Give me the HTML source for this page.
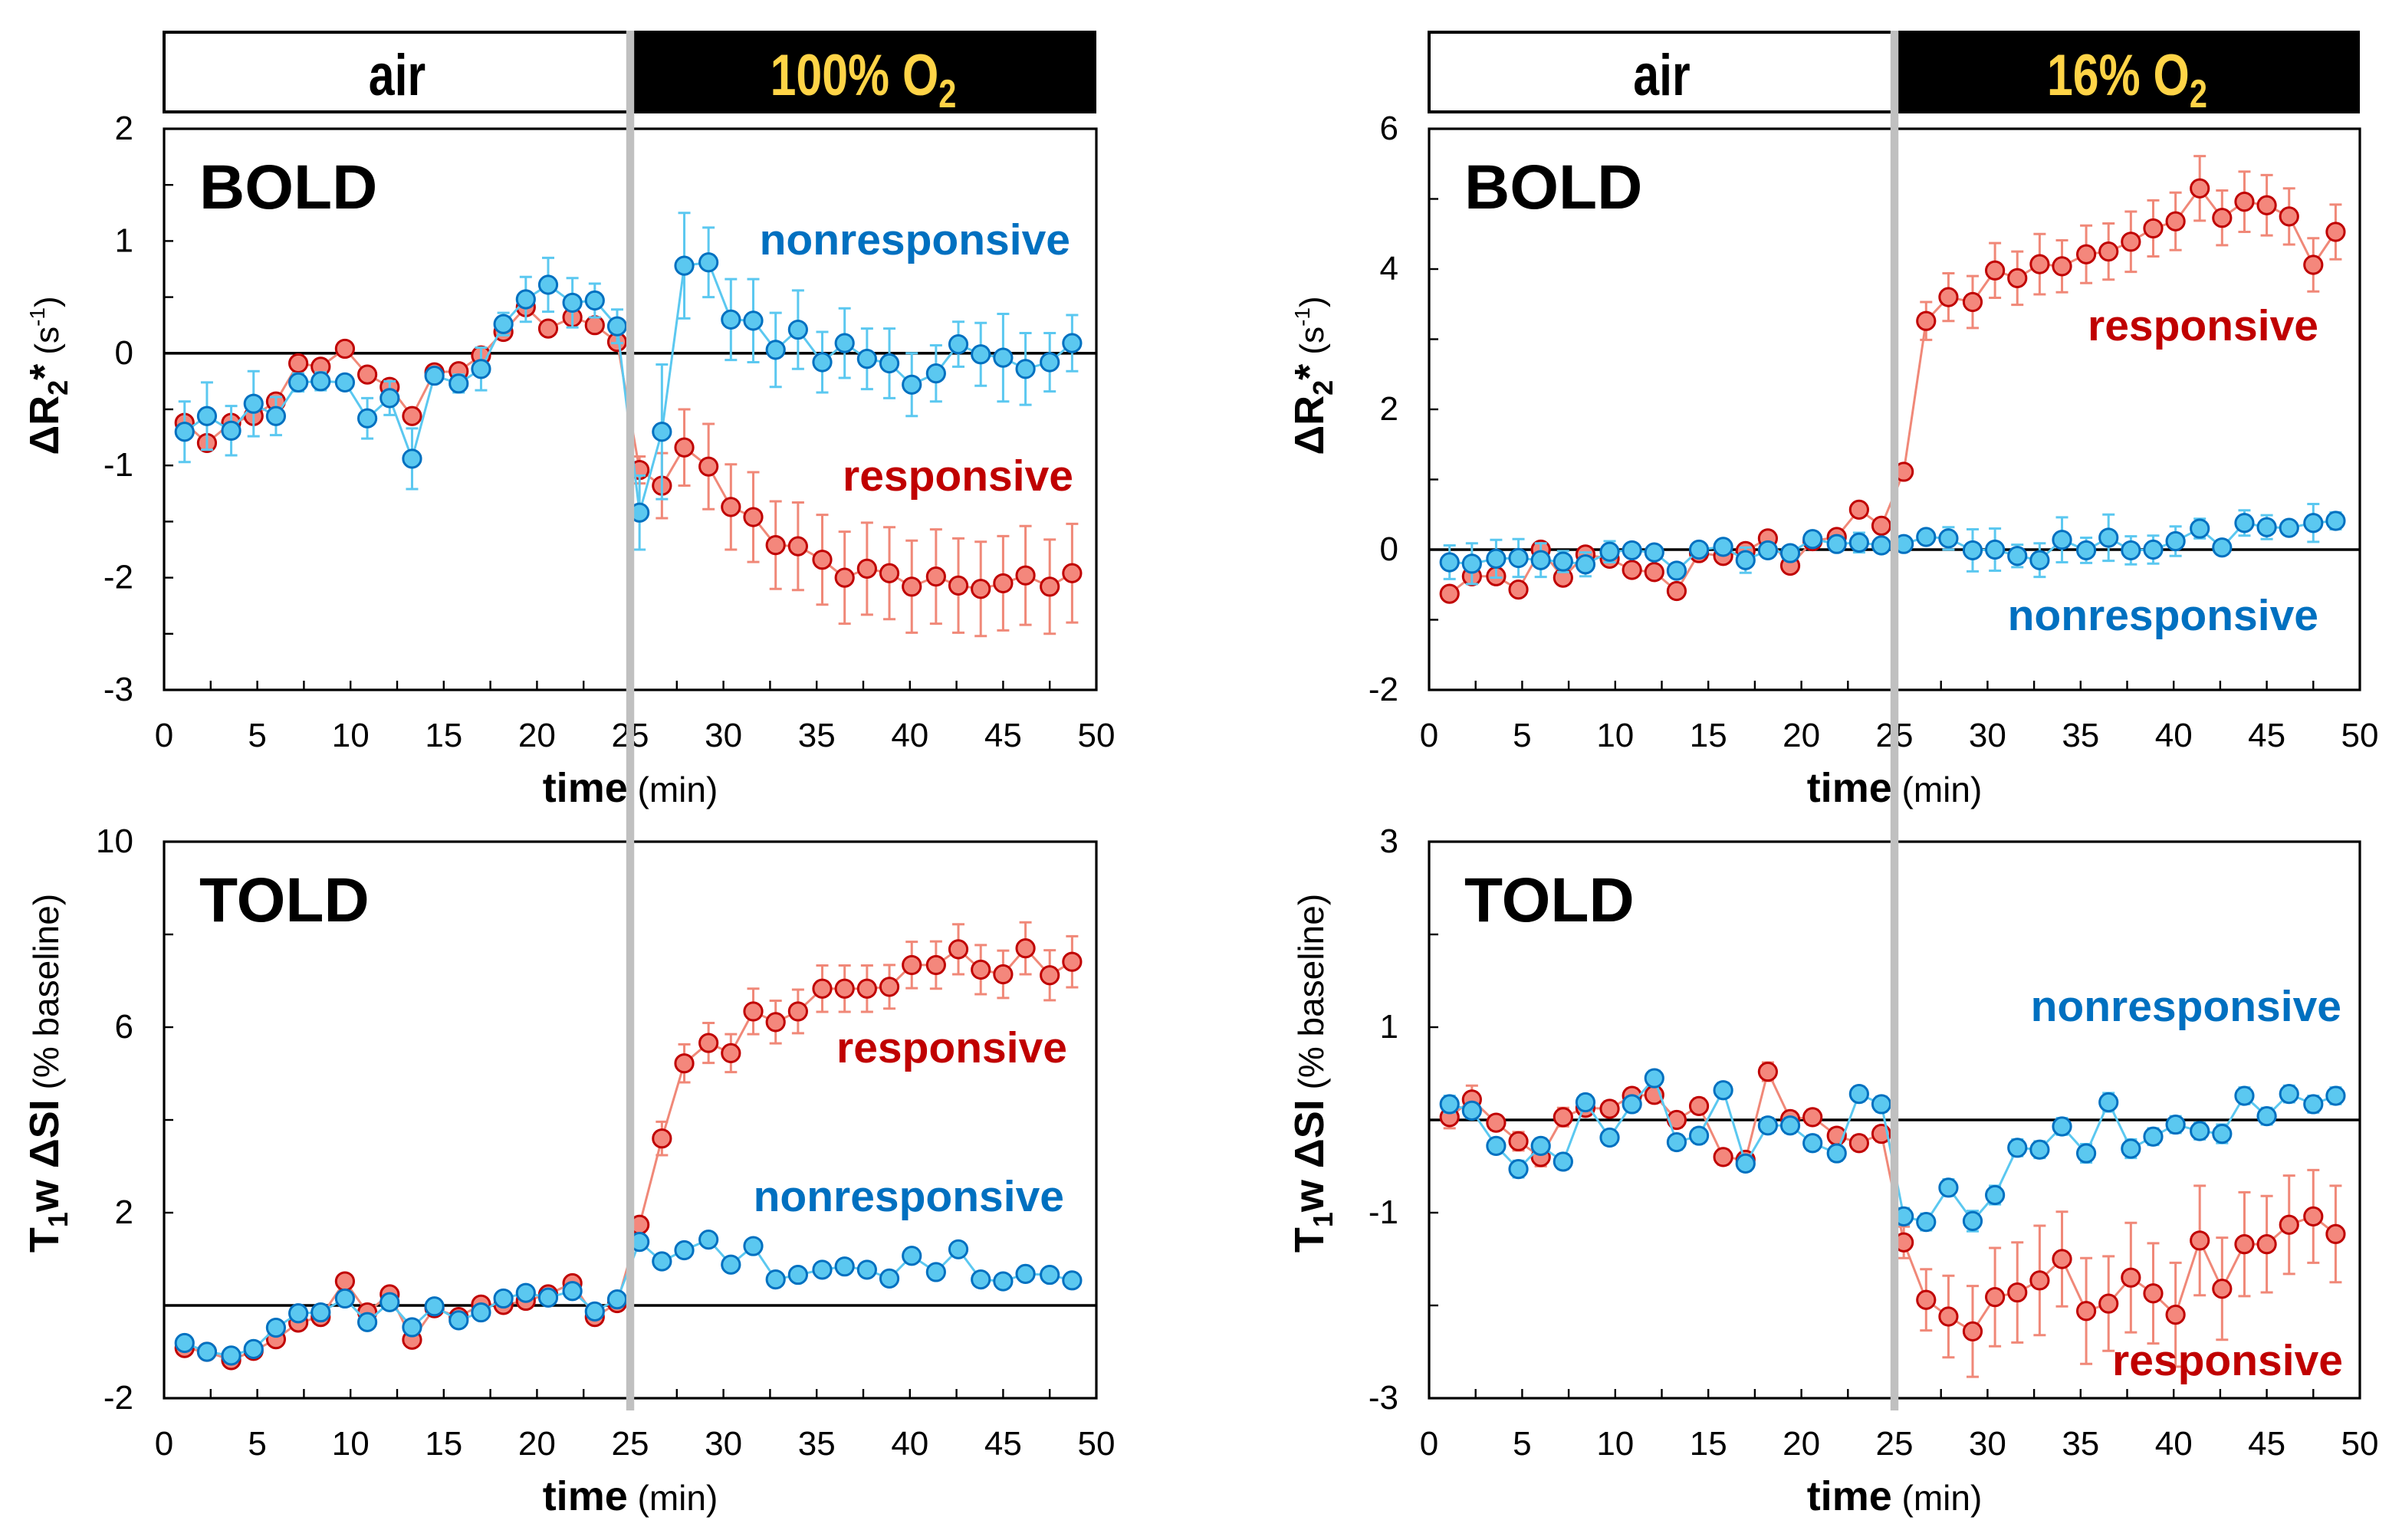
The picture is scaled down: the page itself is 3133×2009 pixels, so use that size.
<!DOCTYPE html>
<html><head><meta charset="utf-8"><style>
html,body{margin:0;padding:0;background:#fff;}
svg{display:block;font-family:"Liberation Sans",Arial,sans-serif;}
</style></head><body>
<svg id="fig" width="3133" height="2009" viewBox="0 0 1566.5 1004.5" xmlns="http://www.w3.org/2000/svg">
<g id="root"></g>
</svg>
<script>
const times=[1.1,2.3,3.6,4.8,6.0,7.2,8.4,9.7,10.9,12.1,13.3,14.5,15.8,17.0,18.2,19.4,20.6,21.9,23.1,24.3,25.5,26.7,27.9,29.2,30.4,31.6,32.8,34.0,35.3,36.5,37.7,38.9,40.1,41.4,42.6,43.8,45.0,46.2,47.5,48.7];
const xTicks=[0,5,10,15,20,25,30,35,40,45,50];
// BOLD 100% O2
const boldO2Resp=[-0.62,-0.80,-0.62,-0.56,-0.43,-0.09,-0.12,0.04,-0.19,-0.30,-0.56,-0.17,-0.16,-0.02,0.19,0.41,0.22,0.32,0.25,0.10,-1.04,-1.18,-0.84,-1.01,-1.37,-1.46,-1.71,-1.72,-1.84,-2.00,-1.92,-1.96,-2.08,-1.99,-2.07,-2.10,-2.05,-1.98,-2.08,-1.96];
const boldO2RespErr=[0.05,0.05,0.05,0.05,0.05,0.04,0.04,0.03,0.04,0.05,0.04,0.04,0.04,0.05,0.04,0.05,0.04,0.05,0.04,0.05,0.12,0.29,0.34,0.38,0.38,0.40,0.39,0.39,0.40,0.41,0.41,0.41,0.41,0.42,0.42,0.42,0.42,0.44,0.42,0.44];
const boldO2Non=[-0.70,-0.56,-0.69,-0.45,-0.56,-0.26,-0.25,-0.26,-0.58,-0.40,-0.94,-0.20,-0.27,-0.14,0.26,0.48,0.61,0.45,0.47,0.24,-1.42,-0.70,0.78,0.81,0.30,0.29,0.03,0.21,-0.08,0.09,-0.05,-0.09,-0.28,-0.18,0.08,-0.01,-0.04,-0.14,-0.08,0.09];
const boldO2NonErr=[0.27,0.30,0.22,0.29,0.17,0.08,0.08,0.05,0.18,0.15,0.27,0.06,0.08,0.19,0.10,0.20,0.24,0.22,0.15,0.15,0.33,0.60,0.47,0.31,0.36,0.37,0.33,0.35,0.27,0.31,0.27,0.31,0.28,0.25,0.20,0.28,0.39,0.32,0.26,0.25];
// BOLD 16% O2
const boldHypResp=[-0.63,-0.38,-0.38,-0.57,0.00,-0.40,-0.07,-0.13,-0.29,-0.32,-0.59,-0.05,-0.09,-0.02,0.16,-0.23,0.12,0.18,0.57,0.34,1.11,3.26,3.60,3.53,3.98,3.87,4.07,4.04,4.21,4.25,4.39,4.58,4.68,5.15,4.73,4.96,4.91,4.75,4.06,4.53];
const boldHypRespErr=[0.05,0.05,0.05,0.05,0.05,0.05,0.05,0.05,0.05,0.05,0.05,0.05,0.05,0.05,0.05,0.05,0.05,0.05,0.05,0.05,0.05,0.27,0.34,0.37,0.39,0.38,0.43,0.37,0.41,0.40,0.43,0.40,0.41,0.46,0.39,0.43,0.43,0.40,0.38,0.39];
const boldHypNon=[-0.18,-0.20,-0.13,-0.12,-0.15,-0.17,-0.21,-0.03,-0.01,-0.04,-0.30,0.00,0.04,-0.15,-0.01,-0.05,0.15,0.08,0.10,0.06,0.08,0.18,0.16,-0.01,0.00,-0.09,-0.15,0.14,-0.01,0.17,-0.01,0.00,0.12,0.30,0.03,0.38,0.32,0.31,0.38,0.41];
const boldHypNonErr=[0.24,0.29,0.27,0.27,0.24,0.15,0.17,0.15,0.08,0.08,0.10,0.06,0.08,0.18,0.10,0.10,0.08,0.08,0.14,0.10,0.08,0.10,0.16,0.30,0.30,0.16,0.24,0.32,0.18,0.33,0.20,0.20,0.21,0.14,0.10,0.18,0.17,0.10,0.27,0.12];
// TOLD 100% O2
const toldO2Resp=[-0.92,-1.00,-1.18,-0.98,-0.73,-0.37,-0.25,0.52,-0.15,0.24,-0.74,-0.06,-0.25,0.02,0.01,0.10,0.24,0.48,-0.25,0.05,1.74,3.60,5.22,5.66,5.44,6.34,6.11,6.34,6.83,6.83,6.83,6.87,7.34,7.34,7.68,7.24,7.14,7.70,7.12,7.41];
const toldO2RespErr=[0.05,0.05,0.05,0.05,0.05,0.05,0.05,0.05,0.05,0.05,0.05,0.05,0.05,0.05,0.05,0.05,0.05,0.05,0.05,0.05,0.16,0.36,0.41,0.43,0.41,0.49,0.46,0.47,0.50,0.50,0.50,0.47,0.50,0.51,0.54,0.53,0.51,0.56,0.54,0.55];
const toldO2Non=[-0.81,-1.00,-1.08,-0.94,-0.48,-0.17,-0.15,0.15,-0.36,0.07,-0.47,-0.02,-0.32,-0.15,0.15,0.27,0.17,0.31,-0.13,0.13,1.37,0.95,1.19,1.42,0.88,1.28,0.56,0.66,0.77,0.84,0.77,0.58,1.07,0.72,1.21,0.56,0.52,0.68,0.66,0.54];
const toldO2NonErr=[0.05,0.05,0.05,0.05,0.05,0.05,0.05,0.05,0.05,0.05,0.05,0.05,0.05,0.05,0.05,0.05,0.05,0.05,0.05,0.05,0.12,0.12,0.10,0.14,0.10,0.14,0.08,0.08,0.10,0.10,0.10,0.08,0.10,0.08,0.10,0.08,0.08,0.08,0.08,0.08];
// TOLD 16% O2
const toldHypResp=[0.03,0.22,-0.03,-0.23,-0.40,0.03,0.13,0.12,0.26,0.27,0.00,0.15,-0.40,-0.43,0.52,0.01,0.03,-0.17,-0.25,-0.15,-1.32,-1.94,-2.12,-2.28,-1.91,-1.86,-1.73,-1.50,-2.06,-1.98,-1.70,-1.87,-2.10,-1.30,-1.82,-1.34,-1.34,-1.13,-1.04,-1.23];
const toldHypRespErr=[0.12,0.15,0.08,0.10,0.10,0.10,0.08,0.08,0.08,0.08,0.08,0.08,0.08,0.08,0.10,0.08,0.08,0.08,0.08,0.08,0.17,0.33,0.44,0.49,0.53,0.54,0.59,0.51,0.57,0.51,0.59,0.54,0.56,0.59,0.55,0.56,0.52,0.53,0.50,0.52];
const toldHypNon=[0.17,0.10,-0.28,-0.53,-0.28,-0.45,0.19,-0.19,0.17,0.45,-0.24,-0.17,0.32,-0.47,-0.06,-0.06,-0.25,-0.36,0.28,0.17,-1.04,-1.10,-0.73,-1.09,-0.81,-0.30,-0.32,-0.07,-0.36,0.19,-0.31,-0.18,-0.05,-0.12,-0.15,0.26,0.04,0.28,0.17,0.26];
const toldHypNonErr=[0.09,0.08,0.08,0.09,0.08,0.08,0.08,0.08,0.08,0.08,0.08,0.08,0.08,0.08,0.08,0.08,0.08,0.08,0.08,0.08,0.09,0.09,0.09,0.11,0.1,0.09,0.09,0.09,0.1,0.1,0.1,0.09,0.09,0.09,0.1,0.09,0.09,0.09,0.09,0.09];
const tlTicks=[2,1,0,-1,-2,-3];
const trTicks=[6,4,2,0,-2];
const blTicks=[10,6,2,-2];
const brTicks=[3,1,-1,-3];

const NS='http://www.w3.org/2000/svg';
const root=document.getElementById('root');
function mk(tag,attrs,parent){const e=document.createElementNS(NS,tag);for(const k in attrs)e.setAttribute(k,attrs[k]);(parent||root).appendChild(e);return e;}
const RED_LINE='#f08878',RED_FILL='#f4877c',RED_STROKE='#c00000',BLUE_LINE='#5bc8f0',BLUE_FILL='#5bc8f0',BLUE_STROKE='#0070c0';

function panel(o){
  const g=mk('g',{});
  
  
  const xs=t=>o.x0+(t/50)*(o.x1-o.x0);
  const ys=v=>o.y1-(v-o.ymin)/(o.ymax-o.ymin)*(o.y1-o.y0);
  const frame=mk('rect',{x:o.x0,y:o.y0,width:o.x1-o.x0,height:o.y1-o.y0,fill:'#fff',stroke:'#000','stroke-width':1.6},g);
  
  
  for(let t=2.5;t<50;t+=2.5){const tk=mk('line',{x1:xs(t),x2:xs(t),y1:o.y1,y2:o.y1-6,stroke:'#000','stroke-width':1.2},g);
    }
  for(const t of xTicks){const tl=mk('text',{x:xs(t),y:o.y1+37,'font-size':22,'text-anchor':'middle'},g);tl.textContent=t;
    }
  for(let v=o.ymin+o.ystep;v<o.ymax;v+=o.ystep){const tk=mk('line',{x1:o.x0,x2:o.x0+6,y1:ys(v),y2:ys(v),stroke:'#000','stroke-width':1.2},g);
    }
  for(const v of o.ticks){const tl=mk('text',{x:o.x0-20,y:ys(v)+7,'font-size':22,'text-anchor':'end'},g);tl.textContent=v;
    }
  const zl=mk('line',{x1:o.x0,x2:o.x1,y1:ys(0),y2:ys(0),stroke:'#000','stroke-width':1.8},g);
  
  const xt=mk('text',{x:(o.x0+o.x1)/2,y:o.y1+73,'font-size':27,'text-anchor':'middle'},g);
  
  const b=mk('tspan',{'font-weight':'bold'},xt);b.textContent='time';
  const m=mk('tspan',{'font-size':23},xt);m.textContent=' (min)';
  const yt=mk('text',{x:0,y:0,'font-size':27,'text-anchor':'middle',transform:`translate(${o.x0-69},${o.ymid}) rotate(-90)`},g);
  
  for(const p of o.ytitle){const s=mk('tspan',p.a||{},yt);s.textContent=p.t;}
  const pl=mk('text',{x:o.x0+23,y:o.y0+52,'font-size':41,'font-weight':'bold'},g);pl.textContent=o.label;
  
  function series(vals,errs,lc,fc,sc,nm){
    const sg=mk('g',{},g);
    for(let i=0;i<vals.length;i++){const x=xs(times[i]),a=ys(vals[i]-errs[i]),c=ys(vals[i]+errs[i]);
      const e=mk('path',{d:`M${x},${a}V${c}M${x-4},${a}H${x+4}M${x-4},${c}H${x+4}`,stroke:lc,'stroke-width':1.5,fill:'none'},sg);
      }
    const pts=vals.map((v,i)=>xs(times[i])+','+ys(v)).join(' ');
    const pl=mk('polyline',{points:pts,fill:'none',stroke:lc,'stroke-width':1.5},sg);
    
    for(let i=0;i<vals.length;i++){const c=mk('circle',{cx:xs(times[i]),cy:ys(vals[i]),r:5.8,fill:fc,stroke:sc,'stroke-width':1.5},sg);
      }
  }
  series(o.r,o.re,RED_LINE,RED_FILL,RED_STROKE,'responsive-series');
  series(o.n,o.ne,BLUE_LINE,BLUE_FILL,BLUE_STROKE,'nonresponsive-series');
  for(const a of o.ann){const t=mk('text',{x:a.x,y:a.y,'font-size':28.5,'font-weight':'bold','text-anchor':'end',fill:a.c},g);t.textContent=a.t;
    }
  return xs;
}
const r2=[{t:'ΔR',a:{'font-weight':'bold'}},{t:'2',a:{'font-weight':'bold','font-size':18,dy:6}},{t:'*',a:{'font-weight':'bold',dy:-6}},{t:' (s',a:{'font-size':22}},{t:'-1',a:{'font-size':14,dy:-9}},{t:')',a:{'font-size':22,dy:9}}];
const t1=[{t:'T',a:{'font-weight':'bold'}},{t:'1',a:{'font-weight':'bold','font-size':18,dy:6}},{t:'w ΔSI',a:{'font-weight':'bold',dy:-6}},{t:' (% baseline)',a:{'font-size':23}}];
const xsL=panel({name:'bold-100-o2-panel',x0:107,x1:715,y0:84,y1:450,ymid:245,ymin:-3,ymax:2,ystep:0.5,ticks:tlTicks,label:'BOLD',ytitle:r2,r:boldO2Resp,re:boldO2RespErr,n:boldO2Non,ne:boldO2NonErr,
 ann:[{t:'nonresponsive',x:698,y:166,c:'#0070c0'},{t:'responsive',x:700,y:320,c:'#c00000'}]});
const xsR=panel({name:'bold-16-o2-panel',x0:932,x1:1539,y0:84,y1:450,ymid:245,ymin:-2,ymax:6,ystep:1,ticks:trTicks,label:'BOLD',ytitle:r2,r:boldHypResp,re:boldHypRespErr,n:boldHypNon,ne:boldHypNonErr,
 ann:[{t:'responsive',x:1512,y:222,c:'#c00000'},{t:'nonresponsive',x:1512,y:411,c:'#0070c0'}]});
panel({name:'told-100-o2-panel',x0:107,x1:715,y0:549,y1:912,ymid:700,ymin:-2,ymax:10,ystep:2,ticks:blTicks,label:'TOLD',ytitle:t1,r:toldO2Resp,re:toldO2RespErr,n:toldO2Non,ne:toldO2NonErr,
 ann:[{t:'responsive',x:696,y:693,c:'#c00000'},{t:'nonresponsive',x:694,y:790,c:'#0070c0'}]});
panel({name:'told-16-o2-panel',x0:932,x1:1539,y0:549,y1:912,ymid:700,ymin:-3,ymax:3,ystep:1,ticks:brTicks,label:'TOLD',ytitle:t1,r:toldHypResp,re:toldHypRespErr,n:toldHypNon,ne:toldHypNonErr,
 ann:[{t:'nonresponsive',x:1527,y:666,c:'#0070c0'},{t:'responsive',x:1528,y:897,c:'#c00000'}]});
function header(x0,x1,xm,label,nm){
  const g=mk('g',{});
  const a=mk('rect',{x:x0,y:21,width:xm-x0,height:52,fill:'#fff',stroke:'#000','stroke-width':2},g);
  
  const b=mk('rect',{x:xm,y:20,width:x1-xm,height:54,fill:'#000'},g);
  
  const ax=(x0+xm)/2;
  const t=mk('text',{x:ax,y:62,'font-size':38,'font-weight':'bold','text-anchor':'middle',transform:`translate(${ax},0) scale(0.8,1) translate(${-ax},0)`},g);t.textContent='air';
  
  const cx=(xm+x1)/2;
  const o=mk('text',{x:cx,y:62,'font-size':38,'font-weight':'bold','text-anchor':'middle',fill:'#ffd447',transform:`translate(${cx},0) scale(0.8,1) translate(${-cx},0)`},g);
  
  const s1=mk('tspan',{},o);s1.textContent=label;
  const s2=mk('tspan',{'font-size':26,dy:8},o);s2.textContent='2';
}
header(107,715,xsL(25),'100% O','header-100-o2');
header(932,1539,xsR(25),'16% O','header-16-o2');
for(const [x,nm] of [[xsL(25),'gas-switch-left'],[xsR(25),'gas-switch-right']]){
  const l=mk('rect',{x:x-2.6,y:20,width:5.2,height:900,fill:'#c0c0c0'});
  
}
</script>
</body></html>
